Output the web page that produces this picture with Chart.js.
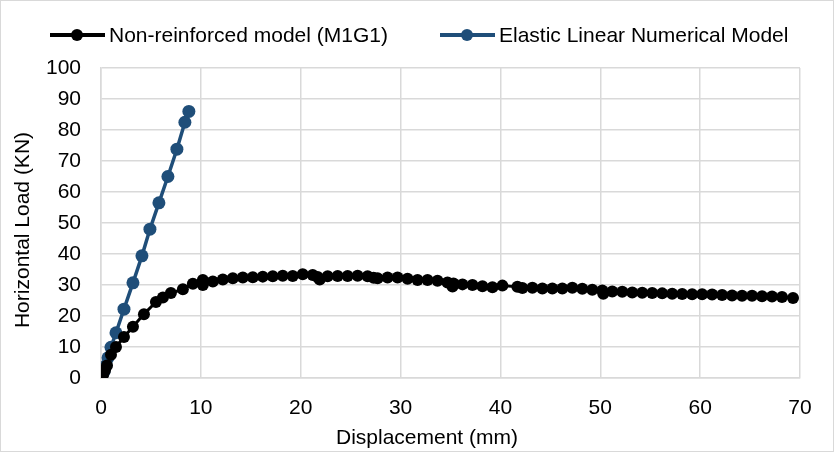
<!DOCTYPE html>
<html>
<head>
<meta charset="utf-8">
<script src="https://cdn.jsdelivr.net/npm/chart.js@4.4.1/dist/chart.umd.min.js"></script>
<style>
  html, body { margin: 0; padding: 0; background: #fff; }
  #wrap { position: relative; width: 834px; height: 452px; font-family: "Liberation Sans", Arial, sans-serif; color: #000; }
  #chart { position: absolute; left: 0; top: 0; }
  #frame { position: absolute; left: 0; top: 0; width: 834px; height: 452px; box-sizing: border-box; border: 1px solid #d9d9d9; pointer-events: none; }
  .legend { position: absolute; top: 22px; height: 26px; font-size: 21px; display: flex; align-items: center; white-space: nowrap; }
  .sym { position: relative; width: 55px; height: 14px; margin-right: 4px; }
  .sym .ln { position: absolute; left: 0; right: 0; top: 5px; height: 4px; }
  .sym .dt { position: absolute; left: 21px; top: 1px; width: 12px; height: 12px; border-radius: 50%; }
  .axis-title { position: absolute; font-size: 21px; line-height: 24px; white-space: nowrap; transform: translate(-50%, -50%); }
  #ytitle { transform: translate(-50%, -50%) rotate(-90deg); }
</style>
</head>
<body>
<div id="wrap">
  <canvas id="chart" width="834" height="452"></canvas>
  <div id="frame"></div>
  <div class="legend" style="left:50px"><span class="sym"><span class="ln" style="background:#000"></span><span class="dt" style="background:#000"></span></span>Non-reinforced model (M1G1)</div>
  <div class="legend" style="left:440px"><span class="sym"><span class="ln" style="background:#1f4e79"></span><span class="dt" style="background:#1f4e79"></span></span>Elastic Linear Numerical Model</div>
  <div class="axis-title" id="xtitle" style="left:427px; top:437px">Displacement (mm)</div>
  <div class="axis-title" id="ytitle" style="left:22px; top:230px">Horizontal Load (KN)</div>
</div>
<script>
const seriesNames = ["Non-reinforced model (M1G1)", "Elastic Linear Numerical Model"];

const nonReinforcedDisp = [0, 0.2, 0.4, 0.6, 1.0, 1.5, 2.3, 3.2, 4.3, 5.5, 6.2, 7.0, 8.2, 9.2, 10.2, 10.2,
  11.2, 12.2, 13.2, 14.2, 15.2, 16.2, 17.2, 18.2, 19.2, 20.2, 21.2, 21.7, 21.9, 22.7, 23.7, 24.7, 25.7,
  26.7, 27.3, 27.7, 28.7, 29.7, 30.7, 31.7, 32.7, 33.7, 34.7, 35.2, 35.3, 36.2, 37.2, 38.2, 39.2, 40.2,
  41.7, 42.2, 43.2, 44.2, 45.2, 46.2, 47.2, 48.2, 49.2, 50.2, 50.3, 51.2, 52.2, 53.2, 54.2, 55.2, 56.2,
  57.2, 58.2, 59.2, 60.2, 61.2, 62.2, 63.2, 64.2, 65.2, 66.2, 67.2, 68.2, 69.3];
const nonReinforcedLoad = [0, 1, 2.5, 4, 7.5, 10, 13.2, 16.5, 20.6, 24.5, 26, 27.4, 28.6, 30.4, 31.6, 30,
  31.1, 31.8, 32.2, 32.4, 32.5, 32.7, 32.8, 33, 32.9, 33.5, 33.2, 32.6, 31.8, 32.8, 32.9, 32.9, 33,
  32.8, 32.3, 32.2, 32.4, 32.4, 32, 31.6, 31.6, 31.4, 30.8, 29.5, 30.5, 30.2, 30, 29.6, 29.3, 29.8,
  29.4, 29, 29.1, 28.9, 28.9, 28.9, 29.1, 28.8, 28.5, 28.2, 27.2, 27.9, 27.8, 27.6, 27.5, 27.4, 27.3,
  27.2, 27.1, 27, 27, 26.9, 26.8, 26.6, 26.5, 26.5, 26.4, 26.3, 26.1, 25.8];

const elasticDisp = [0, 0.3, 0.5, 0.7, 1.0, 1.5, 2.3, 3.2, 4.1, 4.9, 5.8, 6.7, 7.6, 8.4, 8.8];
const elasticLoad = [0, 2, 4, 6.5, 9.9, 14.6, 22.2, 30.7, 39.4, 48, 56.5, 65, 73.8, 82.5, 86];

const xTicks = [0, 10, 20, 30, 40, 50, 60, 70];
const yTicks = [0, 10, 20, 30, 40, 50, 60, 70, 80, 90, 100];

function toPoints(xs, ys) {
  return xs.map((x, i) => ({ x: x, y: ys[i] }));
}

const font = "'Liberation Sans', Arial, sans-serif";
const gridColor = "#d9d9d9";

new Chart(document.getElementById("chart"), {
  type: "scatter",
  data: {
    datasets: [
      {
        label: seriesNames[0],
        data: toPoints(nonReinforcedDisp, nonReinforcedLoad),
        showLine: true,
        borderColor: "#000",
        backgroundColor: "#000",
        borderWidth: 3,
        pointRadius: 6,
        pointBorderWidth: 0
      },
      {
        label: seriesNames[1],
        data: toPoints(elasticDisp, elasticLoad),
        showLine: true,
        borderColor: "#1f4e79",
        backgroundColor: "#1f4e79",
        borderWidth: 3.5,
        pointRadius: 6.5,
        pointBorderWidth: 0
      }
    ]
  },
  options: {
    responsive: false,
    animation: false,
    layout: { padding: { top: 68, right: 34, left: 0, bottom: 0 } },
    plugins: {
      legend: { display: false },
      tooltip: { enabled: false }
    },
    scales: {
      x: {
        type: "linear",
        min: 0,
        max: 70,
        afterBuildTicks: (axis) => { axis.ticks = xTicks.map(v => ({ value: v })); },
        afterFit: (axis) => { axis.height = 74; },
        grid: { color: gridColor, lineWidth: 1.5, drawTicks: false },
        border: { color: gridColor, width: 1.5 },
        ticks: { color: "#000", font: { family: font, size: 21 }, padding: 18 }
      },
      y: {
        type: "linear",
        min: 0,
        max: 100,
        afterBuildTicks: (axis) => { axis.ticks = yTicks.map(v => ({ value: v })); },
        afterFit: (axis) => { axis.width = 101; },
        grid: { color: gridColor, lineWidth: 1.5, drawTicks: false },
        border: { color: gridColor, width: 1.5 },
        ticks: { color: "#000", font: { family: font, size: 21 }, padding: 20 }
      }
    }
  }
});
</script>
</body>
</html>
